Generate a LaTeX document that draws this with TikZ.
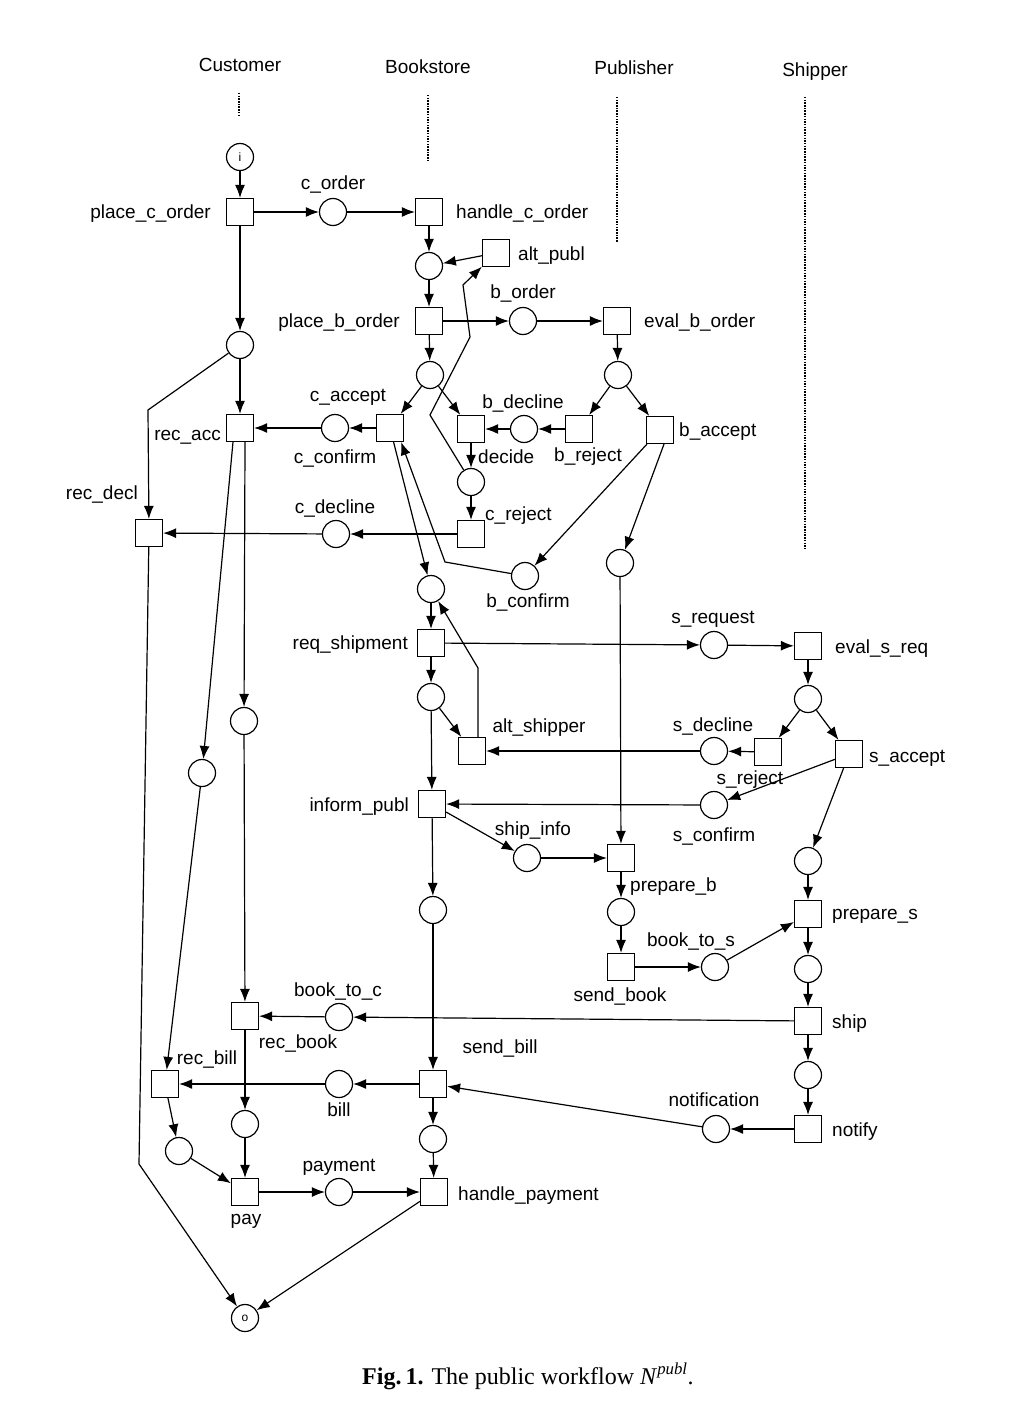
\documentclass[tikz,border=0pt]{standalone}
\usepackage{fontspec}
\setmainfont{Liberation Sans}
\newfontfamily\capfont{Liberation Serif}
\usetikzlibrary{arrows.meta}
\begin{document}
\begin{tikzpicture}[x=1pt,y=-1pt,
  pl/.style={circle,draw,line width=1.2pt,minimum size=27pt,inner sep=0pt},
  tr/.style={rectangle,draw,line width=1.2pt,minimum size=27pt,inner sep=0pt},
  lbl/.style={font=\fontsize{19}{22}\selectfont,inner sep=0pt,yshift=-4pt},
  arc/.style={line width=1.2pt,-{Latex[length=13pt,width=10pt]}},
  lane/.style={line width=1.1pt,dash pattern=on 1.5pt off 1.2pt}]
\useasboundingbox[fill=white] (0,0) rectangle (1010,1418);

% swimlane headers
\node[lbl,anchor=mid] (hcus) at (240,65) {Customer};
\node[lbl,anchor=mid] (hboo) at (428,67) {Bookstore};
\node[lbl,anchor=mid] (hpub) at (634,68) {Publisher};
\node[lbl,anchor=mid] (hshi) at (815,70) {Shipper};
\draw[lane] (239,93) -- (239,117);
\draw[lane] (428,95) -- (428,162);
\draw[lane] (617,97) -- (617,242);
\draw[lane] (805,97) -- (805,548);

% places and transitions
\node[pl] (i) at (240,157) {\fontsize{12}{12}\selectfont i};
\node[tr] (pco) at (240,212) {};
\node[pl] (cord) at (333,212) {};
\node[tr] (hco) at (429,212) {};
\node[pl] (p1) at (429,266) {};
\node[tr] (altp) at (496,253) {};
\node[tr] (pbo) at (429,321) {};
\node[pl] (bord) at (523,321) {};
\node[tr] (ebo) at (617,321) {};
\node[pl] (p2) at (430,375) {};
\node[pl] (p3) at (618,375) {};
\node[tr] (cacc) at (390,428) {};
\node[pl] (ccnf) at (335,428) {};
\node[tr] (racc) at (240,428) {};
\node[pl] (c1) at (240,345) {};
\node[tr] (dec) at (471,429) {};
\node[pl] (bdec) at (524,429) {};
\node[tr] (brej) at (579,429) {};
\node[tr] (bacc) at (660,430) {};
\node[pl] (p4) at (471,482) {};
\node[tr] (crej) at (471,534) {};
\node[pl] (cdec) at (336,534) {};
\node[tr] (rdecl) at (149,533) {};
\node[pl] (bcnf) at (525,576) {};
\node[pl] (p5) at (620,563) {};
\node[pl] (p6) at (431,589) {};
\node[tr] (rqs) at (431,643) {};
\node[pl] (p7) at (431,697) {};
\node[tr] (alts) at (472,751) {};
\node[tr] (inf) at (432,804) {};
\node[pl] (sreq) at (714,645) {};
\node[tr] (esr) at (808,646) {};
\node[pl] (p8) at (808,699) {};
\node[tr] (srej) at (768,752) {};
\node[pl] (sdec) at (714,751) {};
\node[tr] (sacc) at (849,754) {};
\node[pl] (scnf) at (714,805) {};
\node[pl] (shi) at (527,858) {};
\node[tr] (prb) at (621,858) {};
\node[pl] (p9) at (808,861) {};
\node[pl] (p10) at (433,910) {};
\node[pl] (p11) at (621,912) {};
\node[tr] (sbk) at (621,967) {};
\node[pl] (bts) at (715,967) {};
\node[tr] (prs) at (808,914) {};
\node[pl] (p12) at (808,969) {};
\node[tr] (ship) at (808,1021) {};
\node[pl] (p13) at (808,1075) {};
\node[tr] (ntf) at (808,1129) {};
\node[pl] (note) at (716,1129) {};
\node[pl] (c2) at (244,721) {};
\node[pl] (c3) at (202,773) {};
\node[tr] (rbk) at (245,1016) {};
\node[pl] (btc) at (339,1017) {};
\node[tr] (sbill) at (433,1084) {};
\node[pl] (bill) at (339,1084) {};
\node[tr] (rbill) at (165,1084) {};
\node[pl] (c4) at (179,1151) {};
\node[pl] (c5) at (245,1124) {};
\node[tr] (pay) at (245,1192) {};
\node[pl] (pmt) at (339,1192) {};
\node[pl] (p14) at (433,1139) {};
\node[tr] (hpay) at (434,1192) {};
\node[pl] (o) at (245,1318) {\fontsize{12}{12}\selectfont o};

% bend points of routed arcs
\coordinate (k1) at (430,415);
\coordinate (k2) at (470,337);
\coordinate (k3) at (463,285);
\coordinate (k4) at (148,410);
\coordinate (k5) at (445,562);
\coordinate (k6) at (478,668);
\coordinate (k7) at (139,1164);

% labels
\node[lbl,anchor=mid] (l1) at (333,183) {c\_order};
\node[lbl,anchor=mid east] (l2) at (211,212) {place\_c\_order};
\node[lbl,anchor=mid west] (l3) at (456,212) {handle\_c\_order};
\node[lbl,anchor=mid west] (l4) at (518,254) {alt\_publ};
\node[lbl,anchor=mid] (l5) at (523,292) {b\_order};
\node[lbl,anchor=mid east] (l6) at (400,321) {place\_b\_order};
\node[lbl,anchor=mid west] (l7) at (644,321) {eval\_b\_order};
\node[lbl,anchor=mid] (l8) at (348,395) {c\_accept};
\node[lbl,anchor=mid] (l9) at (523,402) {b\_decline};
\node[lbl,anchor=mid] (l10) at (588,455) {b\_reject};
\node[lbl,anchor=mid west] (l11) at (679,430) {b\_accept};
\node[lbl,anchor=mid west] (l12) at (478,457) {decide};
\node[lbl,anchor=mid west] (l13) at (485,514) {c\_reject};
\node[lbl,anchor=mid] (l14) at (528,601) {b\_confirm};
\node[lbl,anchor=mid east] (l15) at (221,434) {rec\_acc};
\node[lbl,anchor=mid] (l16) at (335,457) {c\_confirm};
\node[lbl,anchor=mid east] (l17) at (138,493) {rec\_decl};
\node[lbl,anchor=mid] (l18) at (335,507) {c\_decline};
\node[lbl,anchor=mid east] (l19) at (408,643) {req\_shipment};
\node[lbl,anchor=mid] (l20) at (539,726) {alt\_shipper};
\node[lbl,anchor=mid east] (l21) at (409,805) {inform\_publ};
\node[lbl,anchor=mid] (l22) at (533,829) {ship\_info};
\node[lbl,anchor=mid] (l23) at (713,617) {s\_request};
\node[lbl,anchor=mid west] (l24) at (835,647) {eval\_s\_req};
\node[lbl,anchor=mid] (l25) at (713,725) {s\_decline};
\node[lbl,anchor=mid west] (l26) at (869,756) {s\_accept};
\node[lbl,anchor=mid] (l27) at (750,778) {s\_reject};
\node[lbl,anchor=mid] (l28) at (714,835) {s\_confirm};
\node[lbl,anchor=mid west] (l29) at (630,885) {prepare\_b};
\node[lbl,anchor=mid west] (l30) at (832,913) {prepare\_s};
\node[lbl,anchor=mid] (l31) at (691,940) {book\_to\_s};
\node[lbl,anchor=mid] (l32) at (620,995) {send\_book};
\node[lbl,anchor=mid west] (l33) at (832,1022) {ship};
\node[lbl,anchor=mid] (l34) at (714,1100) {notification};
\node[lbl,anchor=mid west] (l35) at (832,1130) {notify};
\node[lbl,anchor=mid] (l36) at (500,1047) {send\_bill};
\node[lbl,anchor=mid] (l37) at (338,990) {book\_to\_c};
\node[lbl,anchor=mid] (l38) at (298,1042) {rec\_book};
\node[lbl,anchor=mid] (l39) at (207,1058) {rec\_bill};
\node[lbl,anchor=mid] (l40) at (339,1110) {bill};
\node[lbl,anchor=mid] (l41) at (339,1165) {payment};
\node[lbl,anchor=mid] (l42) at (246,1218) {pay};
\node[lbl,anchor=mid west] (l43) at (458,1194) {handle\_payment};

% arcs
\draw[arc] (i) -- (pco);
\draw[arc] (pco) -- (cord);
\draw[arc] (cord) -- (hco);
\draw[arc] (pco) -- (c1);
\draw[arc] (hco) -- (p1);
\draw[arc] (altp) -- (p1);
\draw[arc] (p1) -- (pbo);
\draw[arc] (pbo) -- (bord);
\draw[arc] (bord) -- (ebo);
\draw[arc] (pbo) -- (p2);
\draw[arc] (ebo) -- (p3);
\draw[arc] (p2) -- (cacc);
\draw[arc] (p2) -- (dec);
\draw[arc] (p3) -- (brej);
\draw[arc] (p3) -- (bacc);
\draw[arc] (brej) -- (bdec);
\draw[arc] (bdec) -- (dec);
\draw[arc] (dec) -- (p4);
\draw[arc] (p4) -- (crej);
\draw[arc] (p4) -- (k1) -- (k2) -- (k3) -- (altp);
\draw[arc] (crej) -- (cdec);
\draw[arc] (cdec) -- (rdecl);
\draw[arc] (cacc) -- (ccnf);
\draw[arc] (ccnf) -- (racc);
\draw[arc] (c1) -- (racc);
\draw[arc] (c1) -- (k4) -- (rdecl);
\draw[arc] (cacc) -- (p6);
\draw[arc] (bcnf) -- (k5) -- ([xshift=-3pt]cacc.south east);
\draw[arc] (bacc) -- (bcnf);
\draw[arc] ([xshift=4pt]bacc.south) -- (p5);
\draw[arc] (p5) -- (prb);
\draw[arc] (p6) -- (rqs);
\draw[arc] ([xshift=6pt]alts.north) -- (k6) -- (p6);
\draw[arc] (rqs) -- (sreq);
\draw[arc] (sreq) -- (esr);
\draw[arc] (rqs) -- (p7);
\draw[arc] (p7) -- (alts);
\draw[arc] (p7) -- (inf);
\draw[arc] (esr) -- (p8);
\draw[arc] (p8) -- (srej);
\draw[arc] (p8) -- (sacc);
\draw[arc] (srej) -- (sdec);
\draw[arc] (sdec) -- (alts);
\draw[arc] (sacc) -- (scnf);
\draw[arc] (scnf) -- (inf);
\draw[arc] (sacc) -- (p9);
\draw[arc] (inf) -- (shi);
\draw[arc] (shi) -- (prb);
\draw[arc] (inf) -- (p10);
\draw[arc] (prb) -- (p11);
\draw[arc] (p11) -- (sbk);
\draw[arc] (sbk) -- (bts);
\draw[arc] (bts) -- (prs);
\draw[arc] (p9) -- (prs);
\draw[arc] (prs) -- (p12);
\draw[arc] (p12) -- (ship);
\draw[arc] (ship) -- (p13);
\draw[arc] (p13) -- (ntf);
\draw[arc] (ntf) -- (note);
\draw[arc] (note) -- (sbill);
\draw[arc] (ship) -- (btc);
\draw[arc] (btc) -- (rbk);
\draw[arc] (p10) -- (sbill);
\draw[arc] (sbill) -- (bill);
\draw[arc] (bill) -- (rbill);
\draw[arc] (sbill) -- (p14);
\draw[arc] (p14) -- (hpay);
\draw[arc] ([xshift=5pt]racc.south) -- (c2);
\draw[arc] ([xshift=-7pt]racc.south) -- (c3);
\draw[arc] (c2) -- (rbk);
\draw[arc] (c3) -- (rbill);
\draw[arc] (rbk) -- (c5);
\draw[arc] (c5) -- (pay);
\draw[arc] (rbill) -- (c4);
\draw[arc] (c4) -- (pay);
\draw[arc] (pay) -- (pmt);
\draw[arc] (pmt) -- (hpay);
\draw[arc] (hpay) -- (o);
\draw[arc] (rdecl) -- (k7) -- (o);

% caption
\node[anchor=base west,inner sep=0pt,font=\capfont\fontsize{24}{27}\selectfont] (cap) at (362,1384)
  {\textbf{Fig.\,1.} The public workflow \textit{N}\textsuperscript{\textit{publ}}.};
\end{tikzpicture}
\end{document}
